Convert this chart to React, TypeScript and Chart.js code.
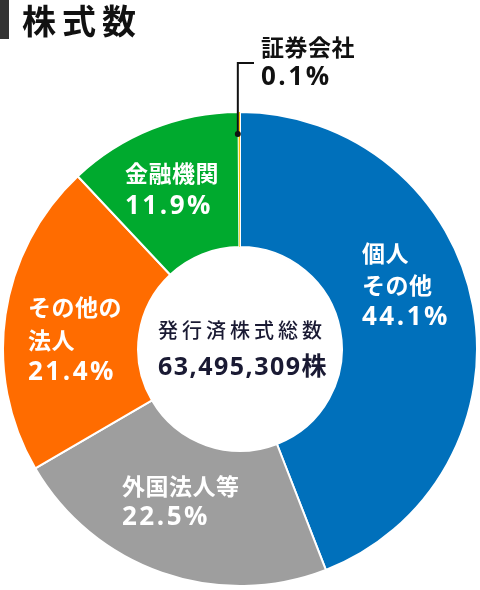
import React, { useEffect, useRef } from "react";
import { Chart, registerables } from "chart.js";
Chart.register(...registerables);

const categories = ["個人その他", "外国法人等", "その他の法人", "金融機関", "証券会社"];
const shares = [44.1, 22.5, 21.4, 11.9, 0.1];
const colors = ["#0070BB", "#9E9E9E", "#FF6C00", "#00AA2E", "#F5C400"];
const labelLines = [["個人", "その他"], ["外国法人等"], ["その他の", "法人"], ["金融機関"], ["証券会社"]];
const pctLabels = ["44.1%", "22.5%", "21.4%", "11.9%", "0.1%"];
const titleText = "株式数";
const centerTitle = "発行済株式総数";
const centerValue = "63,495,309株";

const FONT = "'Noto Sans CJK JP', 'Noto Sans', sans-serif";
const NUMFONT = "'Open Sans', 'Noto Sans CJK JP', sans-serif";

// label anchor offsets relative to chart centre (x, first line y), line pitch
const labelPos = [
  { dx: 122, dy: -96, pitch: 32.5 },
  { dx: -118, dy: 137, pitch: 31.5 },
  { dx: -212, dy: -42, pitch: 33 },
  { dx: -115, dy: -176, pitch: 34 },
  { dx: 21, dy: -302, pitch: 31 },
];

const overlay = {
  id: "overlay",
  afterDraw(chart: any) {
    const ctx = chart.ctx as CanvasRenderingContext2D;
    const meta = chart.getDatasetMeta(0);
    const arc0 = meta.data[0];
    const cx = arc0.x;
    const cy = arc0.y;
    ctx.save();
    // title
    ctx.fillStyle = "#333333";
    ctx.fillRect(0, 0, 9, 39);
    ctx.fillStyle = "#111111";
    ctx.font = `bold 34px ${FONT}`;
    (ctx as any).letterSpacing = "6px";
    ctx.textBaseline = "middle";
    ctx.textAlign = "left";
    ctx.fillText(titleText, 22, 21);

    // segment labels
    labelLines.forEach((lines, i) => {
      const p = labelPos[i];
      const color = i === 4 ? "#111111" : "#ffffff";
      ctx.fillStyle = color;
      let y = cy + p.dy;
      lines.forEach((ln) => {
        ctx.font = `bold 23px ${FONT}`;
        (ctx as any).letterSpacing = "0.5px";
        ctx.fillText(ln, cx + p.dx, y);
        y += p.pitch;
      });
      ctx.font = `bold 26px ${NUMFONT}`;
      (ctx as any).letterSpacing = "2.5px";
      ctx.fillText(pctLabels[i], cx + p.dx, y);
    });

    // callout for tiny segment
    const a = meta.data[4];
    const mid = (a.startAngle + a.endAngle) / 2;
    const r = a.outerRadius - 22;
    const px = cx + Math.cos(mid) * r - 1.5;
    const py = cy + Math.sin(mid) * r;
    ctx.strokeStyle = "#111111";
    ctx.lineWidth = 2;
    ctx.beginPath();
    ctx.moveTo(px, py);
    ctx.lineTo(px, cy - 286);
    ctx.lineTo(cx + 14, cy - 286);
    ctx.stroke();
    ctx.fillStyle = "#111111";
    ctx.beginPath();
    ctx.arc(px, py, 3, 0, Math.PI * 2);
    ctx.fill();

    // centre text
    ctx.textAlign = "center";
    ctx.fillStyle = "#1a1a33";
    ctx.font = `500 20px ${FONT}`;
    (ctx as any).letterSpacing = "4px";
    ctx.fillText(centerTitle, cx + 2, cy - 19);
    ctx.font = `bold 25px ${NUMFONT}`;
    (ctx as any).letterSpacing = "1.5px";
    ctx.fillText(centerValue, cx + 3, cy + 19);
    ctx.restore();
  },
};

export default function App() {
  const ref = useRef<HTMLCanvasElement>(null);
  useEffect(() => {
    if (!ref.current) return;
    const chart = new Chart(ref.current, {
      type: "doughnut",
      data: {
        labels: categories,
        datasets: [
          {
            data: shares,
            backgroundColor: colors,
            borderColor: "#ffffff",
            borderWidth: [2, 2, 2, 2, 0],
          },
        ],
      },
      options: {
        responsive: false,
        animation: false,
        cutout: "43%",
        layout: { padding: { left: 2, right: 2, top: 111, bottom: 3 } },
        plugins: { legend: { display: false }, tooltip: { enabled: false } },
      },
      plugins: [overlay],
    });
    return () => chart.destroy();
  }, []);
  return (
    <div style={{ position: "fixed", left: 0, top: 0, width: 480, height: 590, background: "#fff" }}>
      <canvas ref={ref} width={480} height={590} />
    </div>
  );
}
